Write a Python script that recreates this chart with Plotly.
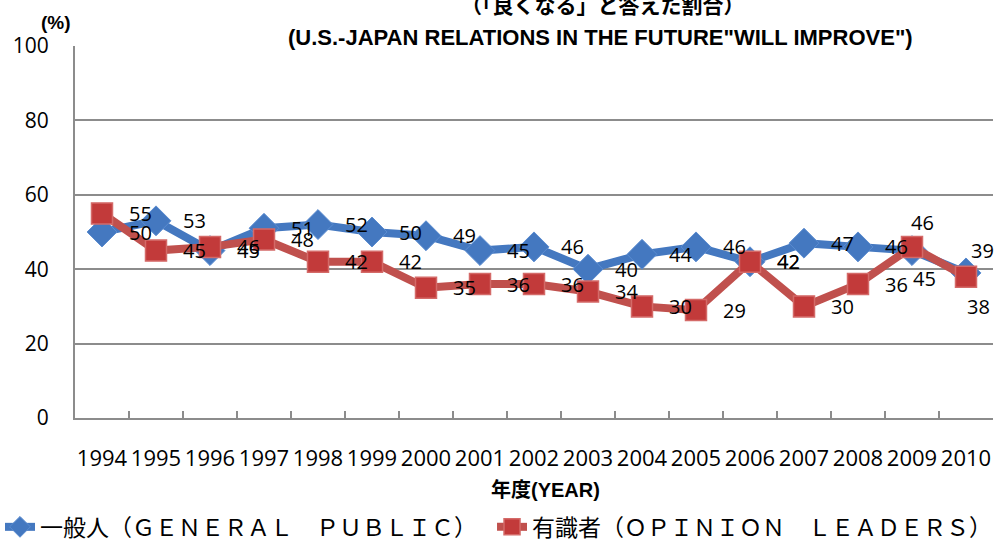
import plotly.graph_objects as go

# ---- data ----
years = ["1994", "1995", "1996", "1997", "1998", "1999", "2000", "2001", "2002",
         "2003", "2004", "2005", "2006", "2007", "2008", "2009", "2010"]
general_public = [50, 53, 45, 51, 52, 50, 49, 45, 46, 40, 44, 46, 42, 47, 46, 45, 39]
opinion_leaders = [55, 45, 46, 48, 42, 42, 35, 36, 36, 34, 30, 29, 42, 30, 36, 46, 38]
y_ticks = [0, 20, 40, 60, 80, 100]

name_public = "一般人（ＧＥＮＥＲＡＬ　ＰＵＢＬＩＣ）"
name_leaders = "有識者（ＯＰＩＮＩＯＮ　ＬＥＡＤＥＲＳ）"
title_jp = "（「良くなる」と答えた割合）"
title_en = "(U.S.-JAPAN RELATIONS IN THE FUTURE\"WILL IMPROVE\")"
x_title = "年度(YEAR)"

BLUE = "#4478C0"
RED = "#C0504D"
GRID = "#8C8C8C"
LABEL_FONT = "Open Sans, Liberation Sans, sans-serif"
CJK_FONT = "Noto Sans CJK JP, sans-serif"
BOLD_FONT = "Liberation Sans, Noto Sans CJK JP, sans-serif"

fig = go.Figure()
fig.add_trace(go.Scatter(
    x=years, y=general_public, name=name_public, mode="lines+markers", legend="legend",
    line=dict(color=BLUE, width=8),
    marker=dict(symbol="diamond", size=23, color=BLUE, line=dict(color="#5B8CD0", width=1)),
))
fig.add_trace(go.Scatter(
    x=years, y=opinion_leaders, name=name_leaders, mode="lines+markers", legend="legend2",
    line=dict(color=RED, width=8),
    marker=dict(symbol="square", size=21, color="#C23A3A", line=dict(color="#D46A68", width=1.5)),
))

# data labels: placed to the right of each point (as in the source chart)
default_shift = (38, 0)
public_shift = {15: (12, -28), 16: (16, 22)}
leaders_shift = {15: (10, 24), 16: (12, -30)}
annotations = []
for series, shifts in ((general_public, public_shift), (opinion_leaders, leaders_shift)):
    for i, v in enumerate(series):
        dx, dy = shifts.get(i, default_shift)
        annotations.append(dict(x=i, y=v, xref="x", yref="y", text=str(v), showarrow=False,
                                xshift=dx, yshift=dy, xanchor="center", yanchor="middle",
                                font=dict(family=LABEL_FONT, size=20, color="black")))

annotations += [
    dict(xref="paper", yref="paper", x=-0.021, y=1.064, text="<b>(%)</b>", showarrow=False,
         xanchor="center", yanchor="middle",
         font=dict(family=BOLD_FONT, size=19, color="black")),
    dict(xref="paper", yref="paper", x=0.575, y=1.113, text="<b>" + title_jp + "</b>", showarrow=False,
         xanchor="center", yanchor="middle",
         font=dict(family=CJK_FONT, size=21, color="black")),
    dict(xref="paper", yref="paper", x=0.572, y=1.024, text="<b>" + title_en + "</b>", showarrow=False,
         xanchor="center", yanchor="middle",
         font=dict(family=BOLD_FONT, size=22, color="black")),
    dict(xref="paper", yref="paper", x=0.512, y=-0.1935, text="<b>" + x_title + "</b>", showarrow=False,
         xanchor="center", yanchor="middle",
         font=dict(family=BOLD_FONT, size=20, color="black")),
]

legend_style = dict(orientation="h", xref="container", yref="container", y=0.035,
                    xanchor="left", yanchor="middle", bgcolor="rgba(0,0,0,0)",
                    font=dict(family=CJK_FONT, size=23, color="black"))

fig.update_layout(
    width=996, height=546,
    margin=dict(l=75, r=3, t=46, b=128, autoexpand=False),
    paper_bgcolor="white", plot_bgcolor="white",
    showlegend=True,
    legend=dict(x=0.0, **legend_style),
    legend2=dict(x=0.494, **legend_style),
    annotations=annotations,
)
fig.update_yaxes(range=[0, 100], tickvals=y_ticks, showgrid=True, gridcolor=GRID, gridwidth=1.5,
                 showline=True, linecolor=GRID, linewidth=2, zeroline=False, ticks="",
                 ticklabelstandoff=20, fixedrange=True, automargin=False,
                 tickfont=dict(family=LABEL_FONT, size=21, color="black"))
fig.update_xaxes(type="category", range=[-0.5, 16.5], showgrid=False, showline=True,
                 linecolor=GRID, linewidth=2, ticks="inside", ticklen=7, tickwidth=1.5,
                 tickcolor=GRID, tickson="boundaries", ticklabelstandoff=20, fixedrange=True,
                 tickangle=0, automargin=False,
                 tickfont=dict(family=LABEL_FONT, size=22, color="black"))

# remove the default 8px page margin so the figure fills the window exactly
fig.write_html("out.html", config={"displayModeBar": False},
               post_script="document.body.style.margin='0';document.body.style.overflow='hidden';")
